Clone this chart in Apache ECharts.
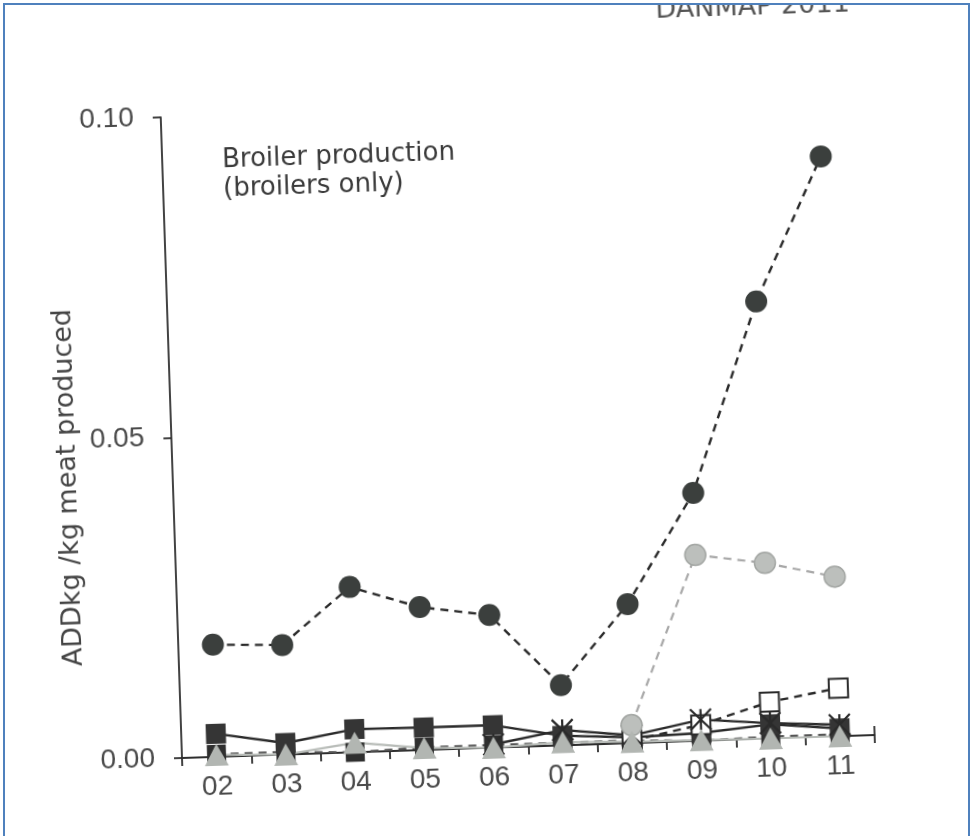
<!DOCTYPE html>
<html><head><meta charset="utf-8">
<script src="https://cdn.jsdelivr.net/npm/echarts@6/dist/echarts.min.js"></script>
<style>
html,body{margin:0;padding:0;background:#fff;width:971px;height:836px;overflow:hidden}
#frame{position:absolute;left:3px;top:3px;width:963px;height:840px;border-left:2px solid #4f81bd;border-top:2px solid #4f81bd;border-right:2px solid #4f81bd;overflow:hidden;background:#fff}
#chart{position:absolute;left:-5px;top:-5px;width:971px;height:836px;transform-origin:182px 758px;transform:rotate(-1.9deg)}
</style></head>
<body><div id="frame"><div id="chart"></div></div>
<script>
const years = ['02','03','04','05','06','07','08','09','10','11'];
const yTickValues = [0, 0.05, 0.10];
const broilerTotal  = [0.0175,0.0171,0.0258,0.0223,0.0207,0.0094,0.0217,0.0387,0.0682,0.0905];
const greyCircles   = [null,null,null,null,null,null,0.0028,0.0290,0.0274,0.0249];
const openSquares   = [null,null,null,null,null,null,0.0004,0.0025,0.0057,0.0075];
const darkSquares   = [0.0036,0.0018,0.0036,0.0035,0.0035,0.0015,0.0009,0.0012,0.0022,0.0012];
const asterisks     = [null,null,null,null,0.0005,0.0024,0.0012,0.0033,0.0024,0.0018];
const baseSquares   = [0.0004,0.0004,0.0000,0.0004,0.0004,0.0004,0.0004,0.0000,0.0003,0.0003];
const greyTriangles = [0.0003,0.0000,0.0015,0.0003,0.0000,0.0005,0.0002,0.0001,0.0000,0.0000];

const LAB = 'Liberation Sans, Arial, sans-serif';
const DJ = 'DejaVu Sans, sans-serif';
const chart = echarts.init(document.getElementById('chart'), null, {renderer:'canvas'});
const axisCol = '#2e2e2e';
chart.setOption({
  animation:false,
  backgroundColor:'transparent',
  grid:{left:182, right:96, top:117, bottom:78, containLabel:false},
  xAxis:{
    type:'category', data:years, boundaryGap:true,
    axisLine:{lineStyle:{color:axisCol, width:1.8}},
    axisTick:{show:true, length:8, alignWithLabel:false, lineStyle:{color:axisCol, width:1.8}},
    axisLabel:{fontSize:28, color:'#4a4a4a', margin:16, fontFamily:LAB},
    splitLine:{show:false}
  },
  yAxis:{
    type:'value', min:yTickValues[0], max:yTickValues[2], interval:yTickValues[1],
    axisLine:{show:true, lineStyle:{color:axisCol, width:1.8}},
    axisTick:{show:true, length:8, lineStyle:{color:axisCol, width:1.8}},
    axisLabel:{fontSize:28, color:'#4a4a4a', margin:27, fontFamily:LAB, formatter:v=>v.toFixed(2)},
    splitLine:{show:false}
  },
  graphic:[
    {type:'text', x:78, y:484, rotation:Math.PI/2,
     style:{text:'ADDkg /kg meat produced', fontSize:27, fontFamily:DJ, fill:'#444', align:'center', verticalAlign:'middle'}},
    {type:'text', x:242, y:148,
     style:{text:'Broiler production\n(broilers only)', fontSize:26, lineHeight:29, fontFamily:DJ, fill:'#3a3a3a', align:'left', verticalAlign:'top'}},
    {type:'text', x:680, y:40,
     style:{text:'DANMAP 2011', fontSize:27, fontFamily:DJ, fill:'#555', align:'left', verticalAlign:'bottom'}},
    {type:'line', shape:{x1:875, y1:758, x2:875, y2:749}, style:{stroke:axisCol, lineWidth:1.8}}
  ],
  series:[
    {name:'base', type:'line', data:baseSquares, symbol:'rect', symbolSize:19,
     itemStyle:{color:'#2f2f2f'}, lineStyle:{color:'#555', width:2.2, type:[8,6]}},
    {name:'darkSquares', type:'line', data:darkSquares, symbol:'rect', symbolSize:20,
     itemStyle:{color:'#353535'}, lineStyle:{color:'#2a2a2a', width:2.4}},
    {name:'openSquares', type:'line', data:openSquares, symbol:'rect', symbolSize:19,
     itemStyle:{color:'#ffffff', borderColor:'#2a2a2a', borderWidth:2}, lineStyle:{color:'#2a2a2a', width:2.4, type:[8,6]}},
    {name:'asterisks', type:'line', data:asterisks, symbol:'path://M0,0L20,20M20,0L0,20M10,0L10,20', symbolSize:21,
     itemStyle:{color:'rgba(0,0,0,0)', borderColor:'#2a2a2a', borderWidth:2.2}, lineStyle:{color:'#2a2a2a', width:2.4}},
    {name:'greyCircles', type:'line', data:greyCircles, symbol:'circle', symbolSize:21,
     itemStyle:{color:'#bcbfbc', borderColor:'#a3a6a3', borderWidth:1.5}, lineStyle:{color:'#a8a8a8', width:2.2, type:[8,6]}},
    {name:'broilerTotal', type:'line', data:broilerTotal, symbol:'circle', symbolSize:22,
     itemStyle:{color:'#3b3f3d'}, lineStyle:{color:'#2a2a2a', width:2.4, type:[8,6]}},
    {name:'greyTriangles', type:'line', data:greyTriangles, symbol:'triangle', symbolSize:[24,22],
     itemStyle:{color:'#b2b6b2'}, lineStyle:{color:'#b8bcb8', width:2.2}}
  ]
});
</script></body></html>
